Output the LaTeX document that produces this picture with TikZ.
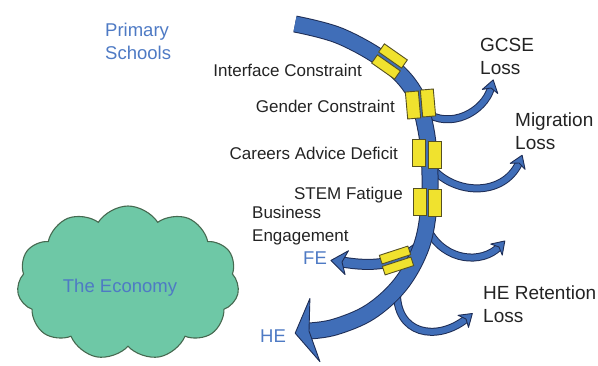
\documentclass[tikz,border=0pt]{standalone}
\usepackage{fontspec}
\newfontfamily\diagfont{Liberation Sans}
\usetikzlibrary{shapes.symbols}

\definecolor{streamblue}{RGB}{64,110,184}
\definecolor{streamedge}{RGB}{30,45,85}
\definecolor{gateyellow}{RGB}{240,226,46}
\definecolor{gateedge}{RGB}{85,80,35}
\definecolor{cloudgreen}{RGB}{110,200,166}
\definecolor{cloudedge}{RGB}{70,105,80}
\definecolor{labelblue}{RGB}{78,122,196}
\definecolor{labeldark}{RGB}{35,35,35}

% arrow head, notch at the origin
\tikzset{
  tiphead/.pic={
    \filldraw[draw=streamedge, fill=streamblue, line width=0.9pt, line join=round]
      (0.7,0) -- (-0.3,0.5) -- (0,0) -- (-0.3,-0.5) -- cycle;
  }
}

\begin{document}
\begin{tikzpicture}[
    x=1pt, y=-1pt,
    stream/.style={draw=streamblue, line width=15pt, preaction={draw=streamedge, line width=17pt}},
    branch/.style={draw=streamblue, line width=6pt, preaction={draw=streamedge, line width=8pt}},
    febranch/.style={draw=streamblue, line width=9pt, preaction={draw=streamedge, line width=11pt}},
    gate/.style={rectangle, draw=gateedge, fill=gateyellow, line width=0.9pt, inner sep=0pt, minimum width=13pt, minimum height=27pt},
    gateflat/.style={gate, minimum width=28pt, minimum height=10pt},
    darktext/.style={font=\diagfont\fontsize{17}{23}\selectfont, text=labeldark, inner sep=0pt, align=left},
    losstext/.style={darktext, font=\diagfont\fontsize{19}{23}\selectfont},
    bluetext/.style={darktext, font=\diagfont\fontsize{18.5}{23}\selectfont, text=labelblue},
    economy/.style={cloud, cloud puffs=11, cloud puff arc=115, aspect=1.45, draw=cloudedge, fill=cloudgreen, line width=1.1pt, minimum width=222pt, minimum height=154pt}
]
\useasboundingbox (0,0) rectangle (598,366);

% The Economy
\node[economy] (economy) at (128,283) {};
\node[bluetext] (economytext) at (120,288) {The Economy};

% Branch end points
\coordinate (gcsestart) at (425,112);
\coordinate (gcseend) at (491,88);
\coordinate (migstart) at (432,168);
\coordinate (migend) at (519,163);
\coordinate (thirdstart) at (428,230);
\coordinate (thirdend) at (499,247);
\coordinate (retstart) at (397,290);
\coordinate (retend) at (466,319);
\coordinate (festart) at (424,242);
\coordinate (feend) at (342,262);
\coordinate (heend) at (309,331);

% Loss branches leaving the stream
\draw[branch] (gcsestart) .. controls (450,130) and (484,112) .. (gcseend);
\draw[branch] (migstart) .. controls (455,195) and (503,197) .. (migend);
\draw[branch] (thirdstart) .. controls (445,262) and (482,264) .. (thirdend);
\draw[branch] (retstart) .. controls (395,335) and (437,342) .. (retend);
\draw[febranch] (festart) .. controls (400,266) and (372,267) .. (feend);

% Main stream
\draw[stream] plot[smooth, tension=0.6] coordinates {(295,24) (340,36) (386,62) (414,92) (426,130) (430,175) (428,215) (420,250) (400,285) (370,312) (335,327) (heend)};

% Arrow heads
\pic[rotate=75, xscale=12, yscale=16] at (gcseend) {tiphead};
\pic[rotate=68, xscale=12, yscale=16] at (migend) {tiphead};
\pic[rotate=46, xscale=12, yscale=16] at (thirdend) {tiphead};
\pic[rotate=41, xscale=12, yscale=16] at (retend) {tiphead};
\pic[rotate=172, xscale=16, yscale=24] at (feend) {tiphead};
\pic[rotate=189, xscale=20, yscale=64] at (heend) {tiphead};

% Gates across the stream
\node[gateflat, rotate=-35] (g1a) at (393,56) {};
\node[gateflat, rotate=-35] (g1b) at (386,67) {};
\node[gate, rotate=5] (g2a) at (413,105) {};
\node[gate, rotate=5] (g2b) at (428,103) {};
\node[gate] (g3a) at (419,153) {};
\node[gate] (g3b) at (435,155) {};
\node[gate] (g4a) at (420,202) {};
\node[gate] (g4b) at (435,203) {};
\node[gateflat, minimum width=30pt, minimum height=9pt, rotate=18] (g5a) at (395,255) {};
\node[gateflat, minimum width=30pt, minimum height=9pt, rotate=18] (g5b) at (398,266) {};

% Labels (base = last line)
\node[bluetext, anchor=base west] (primary) at (105,60) {Primary\\Schools};
\node[darktext, anchor=base east] (interface) at (362,77) {Interface Constraint};
\node[darktext, anchor=base east] (gender) at (395,113) {Gender Constraint};
\node[darktext, anchor=base east] (careers) at (398,160) {Careers Advice Deficit};
\node[darktext, anchor=base east] (stem) at (403,200) {STEM Fatigue};
\node[darktext, anchor=base west] (business) at (252,242) {Business\\Engagement};
\node[bluetext, anchor=base west] (fe) at (303,265) {FE};
\node[bluetext, anchor=base west] (he) at (260,343) {HE};
\node[losstext, anchor=base west] (gcse) at (480,75) {GCSE\\Loss};
\node[losstext, anchor=base west] (migration) at (515,150) {Migration\\Loss};
\node[losstext, anchor=base west] (heretention) at (483,323) {HE Retention\\Loss};

\end{tikzpicture}
\end{document}
